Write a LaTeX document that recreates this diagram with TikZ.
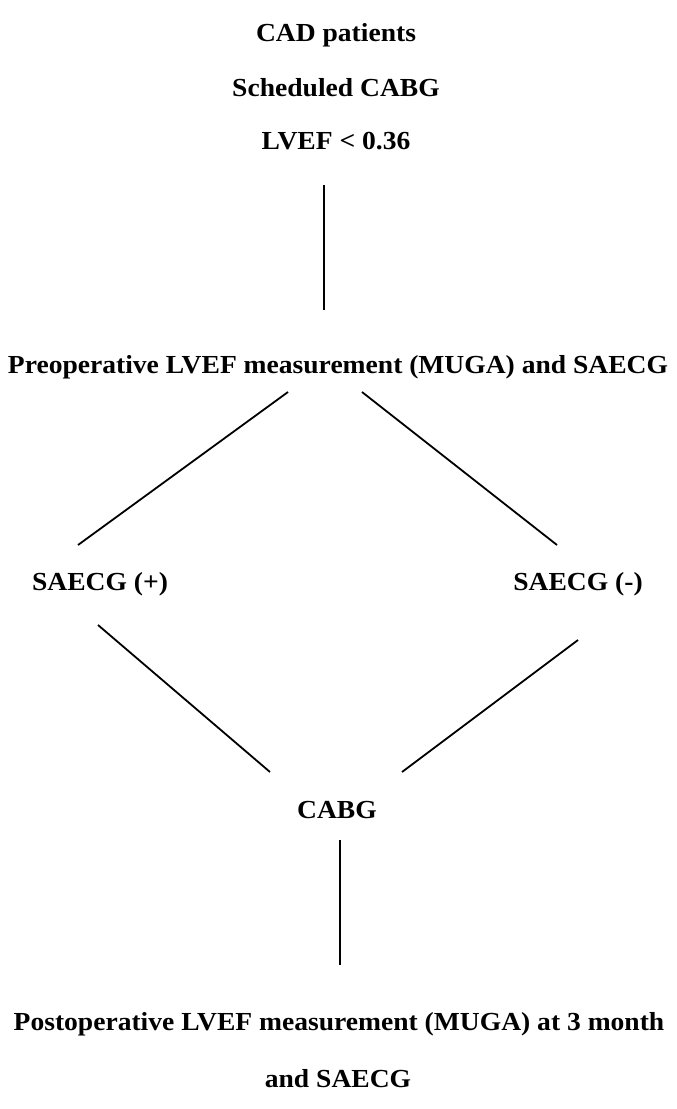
\documentclass[tikz,border=0pt]{standalone}
\usepackage{fontspec}
\setmainfont{Liberation Serif}[FakeStretch=1.06]
\usepackage{tikz}

\begin{document}
\begin{tikzpicture}[x=1pt,y=-1pt]
            \useasboundingbox (0,0) rectangle (677,1109);
            \begin{scope}[every node/.style={font=\fontsize{26}{29}\selectfont\bfseries,inner sep=2pt}]
                \node (cad) at (336,35) {CAD patients};
                \node (sched) at (336,88) {Scheduled CABG};
                \node (lvef) at (336,141) {LVEF < 0.36};
                \node (pre) at (338,367) {Preoperative LVEF measurement (MUGA) and SAECG};
                \node (pos) at (100,584) {SAECG (+)};
                \node (neg) at (578,584) {SAECG (-)};
                \node (cabg) at (337,810) {CABG};
                \node (post) at (339,1024) {Postoperative LVEF measurement (MUGA) at 3 month};
                \node (post2) at (338,1079) {and SAECG};
            \end{scope}

            \coordinate (l1a) at (324,185);
            \coordinate (l1b) at (324,310);
            \coordinate (l2a) at (288,392);
            \coordinate (l2b) at (78,545);
            \coordinate (l3a) at (362,392);
            \coordinate (l3b) at (557,545);
            \coordinate (l4a) at (98,625);
            \coordinate (l4b) at (270,772);
            \coordinate (l5a) at (578,640);
            \coordinate (l5b) at (402,772);
            \coordinate (l6a) at (340,840);
            \coordinate (l6b) at (340,965);

            \begin{scope}[every path/.style={draw=black,line width=1.8pt}]
                \path [-] (l1a) -- (l1b);
                \path [-] (l2a) -- (l2b);
                \path [-] (l3a) -- (l3b);
                \path [-] (l4a) -- (l4b);
                \path [-] (l5a) -- (l5b);
                \path [-] (l6a) -- (l6b);
            \end{scope}
\end{tikzpicture}
\end{document}
